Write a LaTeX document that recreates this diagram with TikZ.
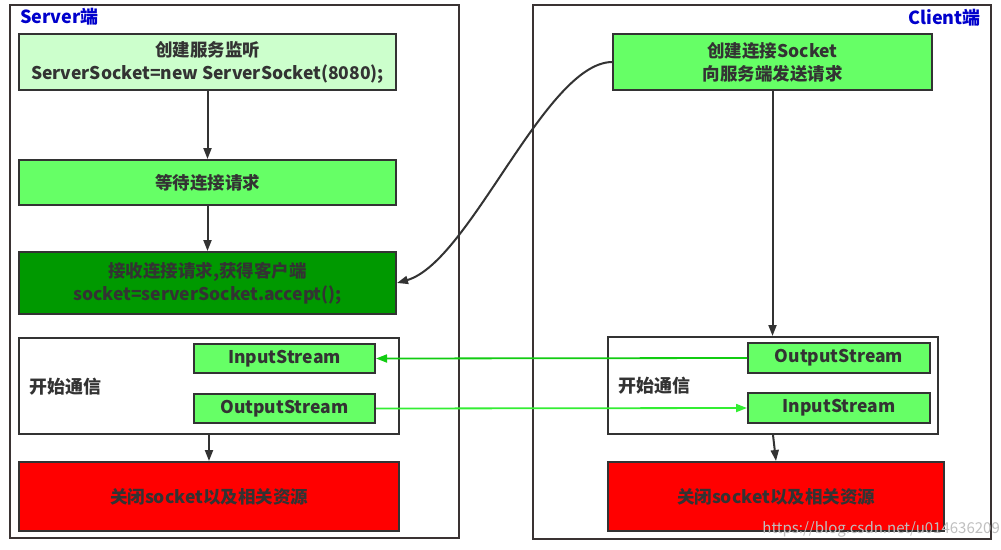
\documentclass[tikz,border=0pt]{standalone}
\usepackage{fontspec}
\setmainfont{Noto Sans CJK SC}
\usepackage{tikz}
\usetikzlibrary{arrows.meta}

\definecolor{boxline}{HTML}{333333}
\definecolor{frameline}{HTML}{3A3333}
\definecolor{lightgreen}{HTML}{CCFFCC}
\definecolor{midgreen}{HTML}{66FF66}
\definecolor{darkgreen}{HTML}{009900}
\definecolor{titleblue}{HTML}{0000CC}
\definecolor{linkgreen}{HTML}{11CC11}
\definecolor{linkgreenb}{HTML}{33EE33}

\begin{document}
\begin{tikzpicture}[x=1pt,y=1pt,yscale=-1,xscale=1,
  box/.style={draw=boxline,line width=2pt,inner sep=0pt,align=center,
    text=boxline,font=\fontsize{17.5}{23}\selectfont\bfseries},
  frame/.style={draw=frameline,line width=2pt},
  flow/.style={draw=boxline,line width=2pt,-{Triangle[length=11pt,width=8pt]}},
  talk/.style={line width=1.8pt,-{Triangle[length=11pt,width=8pt]}},
  label/.style={text=boxline,font=\fontsize{18}{21}\selectfont\bfseries,inner sep=0pt}]
\useasboundingbox (0,0) rectangle (1001,549);
\fill[white] (0,0) rectangle (1001,549);

% Frame
\draw[frame] (10,5) rectangle (459,538);
% Frame
\draw[frame] (533,5) rectangle (991,539);
% Text Node
\node[anchor=west,inner sep=0pt,text=titleblue,font=\fontsize{18}{21}\selectfont\bfseries] (stitle) at (20,17) {Server端};
% Text Node
\node[anchor=east,inner sep=0pt,text=titleblue,font=\fontsize{18}{21}\selectfont\bfseries] (ctitle) at (981,18) {Client端};

% Server side
\node[box,fill=lightgreen,minimum width=377pt,minimum height=56pt] (listen) at (207.5,62) {创建服务监听\\ServerSocket=new ServerSocket(8080);};
\node[box,fill=midgreen,minimum width=377pt,minimum height=45pt] (wait) at (207.5,182.5) {等待连接请求};
\node[box,fill=darkgreen,minimum width=377pt,minimum height=62pt] (accept) at (207.5,283) {接收连接请求,获得客户端\\socket=serverSocket.accept();};
\node[box,fill=white,minimum width=380pt,minimum height=96pt] (stalk) at (209,386) {};
\node[label,anchor=west] (stalktxt) at (29,387) {开始通信};
\node[box,fill=midgreen,minimum width=181pt,minimum height=29pt] (sin) at (284.5,358.5) {InputStream};
\node[box,fill=midgreen,minimum width=181pt,minimum height=29pt] (sout) at (284.5,408.5) {OutputStream};
\node[box,fill=red,minimum width=380pt,minimum height=69pt] (sclose) at (209,496.5) {关闭socket以及相关资源};

% Client side
\node[box,fill=midgreen,minimum width=319pt,minimum height=56pt] (connect) at (772.5,62) {创建连接Socket\\向服务端发送请求};
\node[box,fill=white,minimum width=330pt,minimum height=97pt] (ctalk) at (773,385.5) {};
\node[label,anchor=west] (ctalktxt) at (618,386) {开始通信};
\node[box,fill=midgreen,minimum width=182pt,minimum height=30pt] (cout) at (839,358) {OutputStream};
\node[box,fill=midgreen,minimum width=182pt,minimum height=30pt] (cin) at (839,408) {InputStream};
\node[box,fill=red,minimum width=336pt,minimum height=69pt] (cclose) at (776,496.5) {关闭socket以及相关资源};

% Connection
\draw[flow] (listen.south -| wait.north) -- (wait.north);
% Connection
\draw[flow] (wait.south) -- (accept.north);
% Connection
\draw[flow] (stalk.south) -- (sclose.north);
% Connection
\draw[flow] (connect.south) -- (connect.south |- ctalk.north);
% Connection
\draw[flow] (ctalk.south) -- (cclose.north);
% Connection
\draw[flow] (connect.west) .. controls (545,63) and (470,262) .. (accept.east);
% Connection
\draw[talk,draw=linkgreen,color=linkgreen] (cout.west) -- (sin.east);
% Connection
\draw[talk,draw=linkgreenb,color=linkgreenb] (sout.east) -- (cin.west);

% Text Node
\node[anchor=east,inner sep=0pt,text=black!25,font=\fontsize{15}{18}\selectfont] (mark) at (1000,529) {https://blog.csdn.net/u014636209};
\end{tikzpicture}
\end{document}
